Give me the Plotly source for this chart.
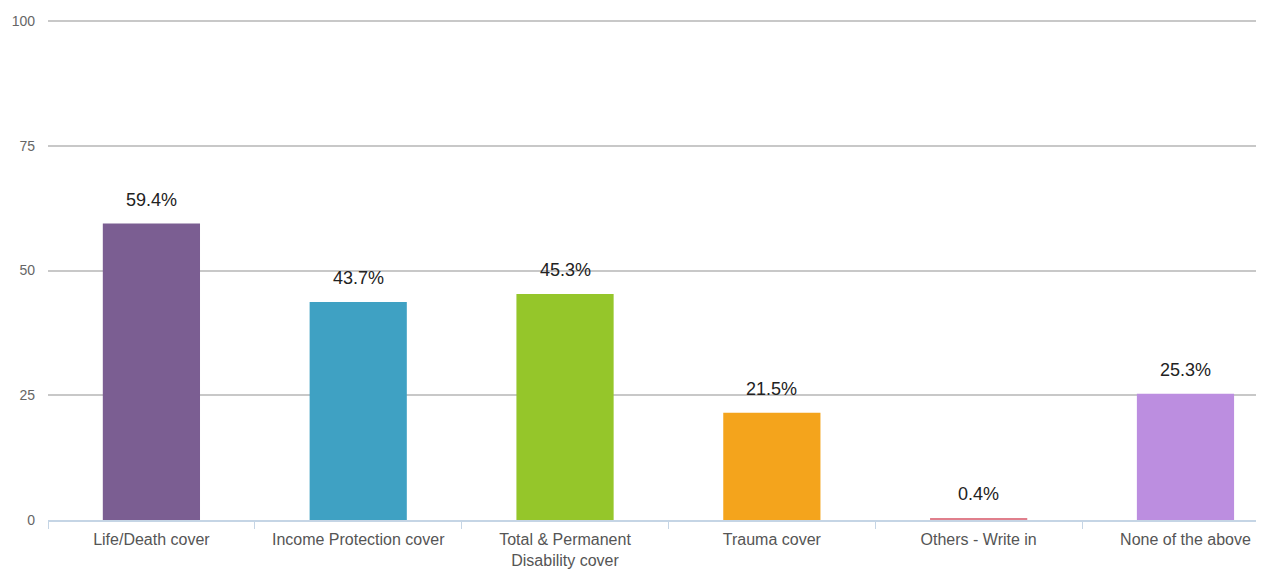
import plotly.graph_objects as go

categories = ["Life/Death cover", "Income Protection cover", "Total & Permanent<br>Disability cover",
              "Trauma cover", "Others - Write in", "None of the above"]
values = [59.4, 43.7, 45.3, 21.5, 0.4, 25.3]
labels = ["59.4%", "43.7%", "45.3%", "21.5%", "0.4%", "25.3%"]
colors = ["#7b5e92", "#3fa1c3", "#95c62a", "#f4a41c", "#e07f8c", "#bc8ee0"]
y_ticks = [0, 25, 50, 75, 100]

fig = go.Figure()
fig.add_trace(go.Bar(x=categories, y=values, marker=dict(color=colors, line=dict(width=0)),
                     width=0.47, hoverinfo="skip"))

for c, v, t in zip(categories, values, labels):
    fig.add_annotation(x=c, y=v, text=t, showarrow=False, yanchor="bottom", yshift=12,
                       font=dict(size=18, color="#222", family="Liberation Sans, Arial"))

fig.update_layout(
    width=1261, height=570,
    margin=dict(l=48, r=5, t=18, b=50),
    paper_bgcolor="white", plot_bgcolor="white",
    showlegend=False,
    font=dict(family="Liberation Sans, Arial", color="#555"),
)
fig.update_xaxes(range=[-0.5, 5.341], showgrid=False, showline=True, linecolor="#c5d5e5", linewidth=1.5,
                 ticks="outside", tickson="boundaries", ticklen=7, tickcolor="#c5d5e5",
                 tickfont=dict(size=16, color="#555"), zeroline=False, ticklabelstandoff=4,
                 automargin=False)
fig.update_yaxes(range=[0, 100.6], tickvals=y_ticks, showgrid=True, gridcolor="#c8c8c8", gridwidth=1.5,
                 zeroline=False, showline=False, tickfont=dict(size=14, color="#666"),
                 ticklabelstandoff=12, automargin=False)

fig.write_html("out.html")
